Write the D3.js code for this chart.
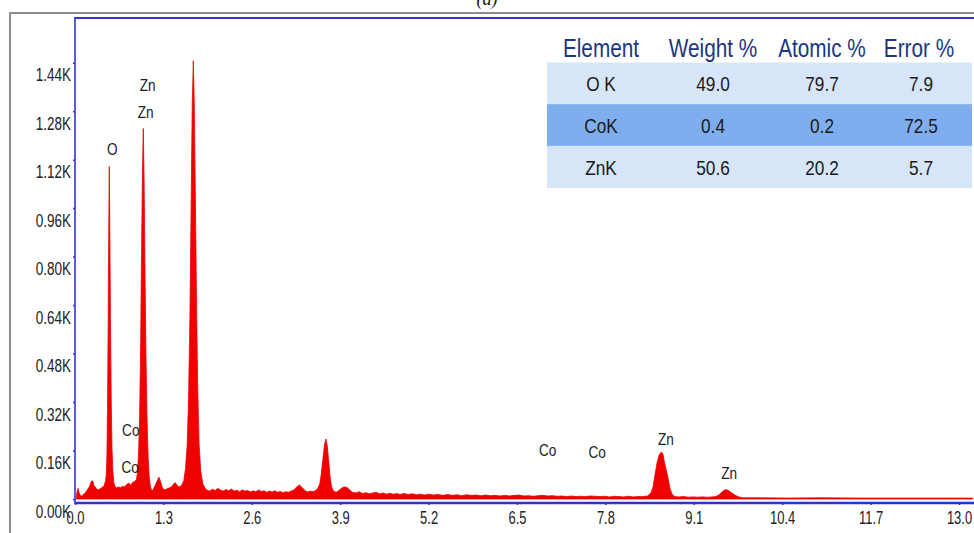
<!DOCTYPE html>
<html><head><meta charset="utf-8">
<script src="https://cdn.jsdelivr.net/npm/d3@7"></script>
<style>html,body{margin:0;padding:0;background:#fff;overflow:hidden}</style>
</head><body>
<svg id="c" width="974" height="533"></svg>
<script>
// ---- data ----
const xTicks = [0.0,1.3,2.6,3.9,5.2,6.5,7.8,9.1,10.4,11.7,13.0];
const yTicks = [0,0.16,0.32,0.48,0.64,0.80,0.96,1.12,1.28,1.44];
// EDS spectrum: [energy keV, counts (K)]
const spectrum = [
[0.02,0.0],[0.03,0.025],[0.045,0.035],[0.06,0.02],[0.09,0.008],[0.12,0.015],[0.15,0.02],[0.18,0.03],[0.21,0.04],[0.24,0.058],[0.26,0.06],[0.28,0.045],[0.31,0.035],[0.34,0.03],[0.37,0.034],[0.40,0.038],
[0.43,0.045],[0.45,0.06],[0.46,0.08],[0.47,0.15],[0.478,0.3],[0.487,0.55],[0.495,0.85],[0.504,1.097],[0.513,0.86],[0.522,0.58],[0.533,0.32],[0.545,0.16],[0.557,0.09],[0.57,0.055],[0.585,0.043],
[0.61,0.036],[0.64,0.04],[0.67,0.037],[0.70,0.042],[0.73,0.04],[0.76,0.048],[0.79,0.052],[0.82,0.046],[0.85,0.055],[0.88,0.058],
[0.905,0.065],[0.92,0.09],[0.935,0.15],[0.95,0.27],[0.965,0.5],[0.978,0.8],[0.992,1.08],[1.004,1.223],[1.016,1.06],[1.028,0.78],[1.042,0.5],[1.058,0.28],[1.075,0.14],[1.092,0.07],[1.11,0.04],
[1.13,0.026],[1.15,0.032],[1.18,0.045],[1.21,0.06],[1.235,0.072],[1.255,0.06],[1.28,0.04],[1.31,0.03],[1.34,0.032],[1.38,0.036],[1.42,0.04],[1.45,0.05],[1.475,0.054],[1.50,0.045],[1.53,0.04],[1.56,0.042],
[1.60,0.06],[1.625,0.1],[1.65,0.18],[1.67,0.33],[1.69,0.6],[1.707,0.95],[1.724,1.3],[1.74,1.446],[1.754,1.3],[1.77,1.0],[1.787,0.65],[1.805,0.36],[1.825,0.18],[1.85,0.09],[1.88,0.05],[1.91,0.036],
[1.94,0.03],[1.98,0.026],[2.02,0.032],[2.06,0.028],[2.10,0.035],[2.14,0.03],[2.18,0.026],[2.22,0.031],[2.26,0.027],[2.30,0.033],[2.34,0.026],[2.38,0.029],[2.42,0.024],[2.46,0.03],[2.50,0.026],[2.54,0.028],[2.58,0.023],[2.62,0.027],[2.66,0.024],[2.70,0.03],[2.74,0.025],[2.78,0.027],[2.82,0.022],[2.86,0.026],[2.90,0.023],[2.94,0.027],[2.98,0.022],[3.02,0.025],[3.06,0.021],[3.10,0.024],[3.14,0.022],[3.18,0.026],[3.22,0.03],[3.26,0.04],[3.30,0.046],[3.34,0.038],[3.38,0.028],[3.42,0.023],[3.46,0.026],[3.50,0.024],[3.54,0.028],
[3.57,0.035],[3.60,0.05],[3.62,0.08],[3.645,0.13],[3.67,0.18],[3.69,0.198],[3.71,0.175],[3.735,0.115],[3.755,0.065],[3.775,0.04],[3.80,0.026],[3.84,0.022],[3.88,0.028],[3.92,0.036],[3.96,0.04],[4.00,0.038],[4.04,0.03],[4.08,0.022],
[4.13,0.02],[4.18,0.024],[4.23,0.018],[4.28,0.021],[4.33,0.017],[4.38,0.02],[4.43,0.022],[4.48,0.017],[4.53,0.02],[4.58,0.016],[4.63,0.019],[4.68,0.016],[4.73,0.018],[4.78,0.015],[4.84,0.018],[4.90,0.015],[4.96,0.017],[5.02,0.014],[5.08,0.016],[5.14,0.013],[5.20,0.016],[5.27,0.013],[5.34,0.015],[5.41,0.012],[5.48,0.015],[5.55,0.012],[5.62,0.014],[5.69,0.011],[5.76,0.014],[5.83,0.012],[5.90,0.013],[5.97,0.011],[6.04,0.013],[6.11,0.011],[6.18,0.012],[6.25,0.01],[6.32,0.012],[6.39,0.01],[6.46,0.012],[6.53,0.013],[6.60,0.01],[6.67,0.011],[6.74,0.009],[6.81,0.011],[6.88,0.012],[6.95,0.01],[7.02,0.011],[7.09,0.009],[7.16,0.01],[7.23,0.008],[7.30,0.01],[7.37,0.008],[7.44,0.009],[7.51,0.008],[7.58,0.01],[7.65,0.009],[7.72,0.008],[7.79,0.009],[7.86,0.007],[7.93,0.009],[8.00,0.008],[8.07,0.007],[8.14,0.009],[8.21,0.007],[8.28,0.008],[8.35,0.008],[8.42,0.01],
[8.47,0.02],[8.50,0.04],[8.53,0.08],[8.56,0.12],[8.59,0.145],[8.62,0.155],[8.645,0.15],[8.67,0.12],[8.70,0.09],[8.72,0.07],[8.75,0.035],[8.78,0.016],[8.82,0.008],
[8.88,0.007],[8.95,0.008],[9.02,0.006],[9.09,0.007],[9.16,0.006],[9.23,0.007],[9.30,0.006],[9.37,0.007],[9.42,0.008],
[9.46,0.012],[9.50,0.02],[9.54,0.028],[9.57,0.031],[9.61,0.028],[9.66,0.02],[9.71,0.012],[9.76,0.007],
[9.82,0.004],[10.0,0.004],[10.5,0.003],[11.0,0.004],[11.5,0.003],[12.0,0.003],[12.5,0.003],[13.0,0.003],[13.2,0.003]
];
// peak labels: [text, energy keV, counts K]
const peakLabels = [
["O",0.55,1.16],["Zn",1.07,1.37],["Zn",1.04,1.28],
["Co",0.82,0.23],["Co",0.81,0.11],
["Co",6.95,0.165],["Co",7.68,0.16],
["Zn",8.69,0.2],["Zn",9.62,0.09]
];
const tableHeader = ["Element","Weight %","Atomic %","Error %"];
const tableRows = [
["O K","49.0","79.7","7.9"],
["CoK","0.4","0.2","72.5"],
["ZnK","50.6","20.2","5.7"]
];

// ---- drawing ----
const svg = d3.select("#c");
const x = d3.scaleLinear().domain([0,13.2]).range([75, 75+13.2*68]);
const y = d3.scaleLinear().domain([0,1.6]).range([499, 499-1.6*303]);
const blue = "#3232d2";

function narrow(sel, f){ sel.each(function(){ const w=this.getComputedTextLength(); this.setAttribute("textLength", w*f); this.setAttribute("lengthAdjust","spacingAndGlyphs"); }); }

// title
svg.append("text").attr("x",487).attr("y",5).attr("text-anchor","middle")
  .attr("font-family","Liberation Serif, Times New Roman, serif").attr("font-style","italic")
  .attr("font-size",18).attr("fill","#111").text("(a)");

// outer gray frame
svg.append("path").attr("d","M10,533 L10,13 L974,13").attr("fill","none").attr("stroke","#8c8c8c").attr("stroke-width",2);

// spectrum area
const area = d3.area().x(d=>x(d[0])).y0(y(0)).y1(d=>y(d[1])).curve(d3.curveLinear);
svg.append("path").datum(spectrum).attr("d",area).attr("fill","#f00000").attr("stroke","#f00000").attr("stroke-width",0.8);

// blue frame
svg.append("line").attr("x1",75).attr("x2",974).attr("y1",18).attr("y2",18).attr("stroke",blue).attr("stroke-width",2.2);
svg.append("line").attr("x1",75).attr("x2",75).attr("y1",17).attr("y2",504).attr("stroke",blue).attr("stroke-width",1.6);

// x axis
const xAxis = svg.append("g").attr("transform","translate(0,503)")
  .call(d3.axisBottom(x).tickValues(xTicks).tickFormat(d3.format(".1f")).tickSize(2).tickPadding(6));
xAxis.select(".domain").attr("stroke",blue).attr("stroke-width",2.4).attr("d","M75,0H974");
xAxis.selectAll(".tick line").attr("stroke",blue).attr("stroke-width",1.5);
xAxis.selectAll("text").attr("font-family","Liberation Sans, Arial, sans-serif").attr("font-size",18).attr("fill","#222").attr("dy","0.72em");
xAxis.selectAll("text").call(narrow,0.72);

// y axis
const yAxis = svg.append("g").attr("transform","translate(75,0)")
  .call(d3.axisLeft(y).tickValues(yTicks).tickFormat(d=>d.toFixed(2)+"K").tickSize(2).tickPadding(2));
yAxis.select(".domain").remove();
yAxis.selectAll(".tick line").attr("stroke",blue).attr("stroke-width",1.5);
yAxis.selectAll("text").attr("font-family","Liberation Sans, Arial, sans-serif").attr("font-size",18).attr("fill","#222").attr("dy","1.0em");
yAxis.selectAll("text").call(narrow,0.75);

// peak labels
svg.append("g").selectAll("text").data(peakLabels).join("text")
  .attr("x",d=>x(d[1])).attr("y",d=>y(d[2])).attr("dy",7).attr("text-anchor","middle")
  .attr("font-family","Liberation Sans, Arial, sans-serif").attr("font-size",16).attr("fill","#222")
  .text(d=>d[0]).call(narrow,0.85);

// table
const colX = d3.scalePoint().domain(d3.range(4)).range([601,919]);
const rowY = d3.scaleBand().domain(d3.range(3)).range([62.5,187.5]);
const tbl = svg.append("g");
tbl.selectAll("rect").data(tableRows).join("rect")
  .attr("x",547).attr("width",425).attr("y",(d,i)=>rowY(i)).attr("height",rowY.bandwidth()+0.5)
  .attr("fill",(d,i)=>i===1?"#7eaeee":"#d6e5f7");
tbl.selectAll(".h").data(tableHeader).join("text").attr("class","h")
  .attr("x",(d,i)=>colX(i)+[0,6,9,0][i]).attr("y",57).attr("text-anchor","middle")
  .attr("font-family","Liberation Sans, Arial, sans-serif").attr("font-size",25).attr("fill","#1c3584")
  .text(d=>d).call(narrow,0.83);
tableRows.forEach((r,ri)=>{
  tbl.selectAll(".r"+ri).data(r).join("text").attr("class","r"+ri)
    .attr("x",(d,i)=>colX(i)+[0,6,9,2][i]).attr("y",rowY(ri)+rowY.bandwidth()/2+8).attr("text-anchor","middle")
    .attr("font-family","Liberation Sans, Arial, sans-serif").attr("font-size",21).attr("fill","#1a1a1a")
    .text(d=>d).call(narrow,0.82);
});
</script>
</body></html>
